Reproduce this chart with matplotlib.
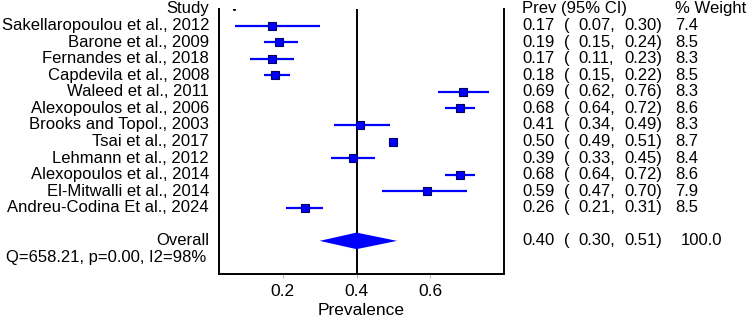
import matplotlib.pyplot as plt
import numpy as np
from matplotlib.transforms import blended_transform_factory

plt.rcParams['font.family'] = ['Liberation Sans', 'DejaVu Sans']

studies = ["Sakellaropoulou et al., 2012", "Barone et al., 2009", "Fernandes et al., 2018",
           "Capdevila et al., 2008", "Waleed et al., 2011", "Alexopoulos et al., 2006",
           "Brooks and Topol., 2003", "Tsai et al., 2017", "Lehmann et al., 2012",
           "Alexopoulos et al., 2014", "El-Mitwalli et al., 2014", "Andreu-Codina Et al., 2024"]
prev = np.array([0.17, 0.19, 0.17, 0.18, 0.69, 0.68, 0.41, 0.50, 0.39, 0.68, 0.59, 0.26])
lo = np.array([0.07, 0.15, 0.11, 0.15, 0.62, 0.64, 0.34, 0.49, 0.33, 0.64, 0.47, 0.21])
hi = np.array([0.30, 0.24, 0.23, 0.22, 0.76, 0.72, 0.49, 0.51, 0.45, 0.72, 0.70, 0.31])
weight = np.array([7.4, 8.5, 8.3, 8.5, 8.3, 8.6, 8.3, 8.7, 8.4, 8.6, 7.9, 8.5])

overall = 0.40
overall_lo, overall_hi = 0.30, 0.51
overall_weight = 100.0
het_text = "Q=658.21, p=0.00, I2=98%"

fig = plt.figure(figsize=(7.5, 3.22), dpi=100)
ax = fig.add_axes([219 / 750, 1 - 274 / 322, (504 - 219) / 750, (274 - 9) / 322])

rows = np.arange(1, len(studies) + 1)
row_overall = len(studies) + 2
row_het = row_overall + 1

# reference line at pooled estimate
ax.axvline(overall, color='black', lw=1.4, zorder=1)

# study CIs and boxes
ax.hlines(rows, lo, hi, color='#0000ff', lw=1.6, zorder=2)
for r, p, w in zip(rows, prev, weight):
    ax.plot(p, r, marker='s', ms=1.9 * np.sqrt(w), mfc='#0000ff', mec='#000060',
            mew=0.8, ls='none', zorder=3)

# pooled diamond
h = 0.5
ax.fill([overall_lo, overall, overall_hi, overall],
        [row_overall, row_overall - h, row_overall, row_overall + h],
        color='#0000ff', lw=0, zorder=3)

# stray dot on the header row
ax.plot(0.068, 0, marker='o', ms=1.2, color='black', zorder=3)

ax.set_xlim(0.027, 0.80)
ax.set_ylim(row_het + 1, 0)
ax.set_xticks([0.2, 0.4, 0.6])
ax.set_xticklabels(['0.2', '0.4', '0.6'], fontsize=12.5)
ax.tick_params(axis='x', length=3, color='#bbbbbb', pad=4)
ax.set_yticks([])
ax.set_xlabel('Prevalence', fontsize=12.5, labelpad=3)
ax.spines['top'].set_visible(False)
for s in ['left', 'bottom', 'right']:
    ax.spines[s].set_linewidth(1.4)

fs = 12.0
tr = blended_transform_factory(fig.transFigure, ax.transData)


def put(x, r, s, ha='left'):
    ax.text(x / 750, r, s, transform=tr, ha=ha, va='center', fontsize=fs, clip_on=False)


# left labels
put(209, 0, "Study", 'right')
for r, s in zip(rows, studies):
    put(209, r, s, 'right')
put(209, row_overall, "Overall", 'right')
put(206, row_het, het_text, 'right')

# right table
put(522, 0, "Prev (95% CI)")
put(675, 0, "% Weight")


def table_row(r, p, l, u, w):
    put(522, r, f"{p:.2f}")
    put(564, r, "(")
    put(578, r, f"{l:.2f},")
    put(624, r, f"{u:.2f})")
    put(702 if w >= 100 else 687, r, f"{w:.1f}", 'center')


for r, p, l, u, w in zip(rows, prev, lo, hi, weight):
    table_row(r, p, l, u, w)
table_row(row_overall, overall, overall_lo, overall_hi, overall_weight)

fig.savefig('out.png', dpi=100)
